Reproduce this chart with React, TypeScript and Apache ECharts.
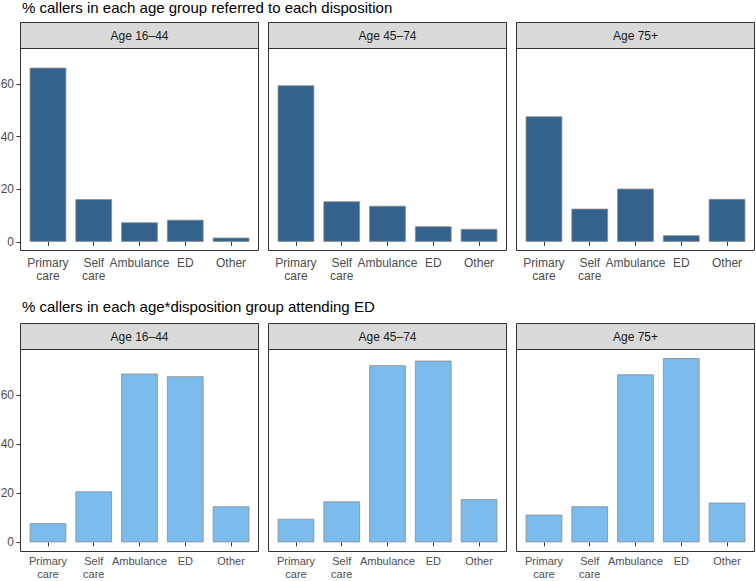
import React, { useEffect, useRef } from 'react';
import * as echarts from 'echarts';

const categories = ['Primary care', 'Self care', 'Ambulance', 'ED', 'Other'];
const ageGroups = ['Age 16–44', 'Age 45–74', 'Age 75+'];
const yTicks = [0, 20, 40, 60];

const titleReferred = '% callers in each age group referred to each disposition';
const titleAttending = '% callers in each age*disposition group attending ED';

const referred1644 = [66.2, 16.2, 7.4, 8.4, 1.6];
const referred4574 = [59.5, 15.4, 13.7, 5.9, 4.9];
const referred75 = [47.7, 12.6, 20.2, 2.5, 16.3];

const attend1644 = [7.8, 20.8, 68.9, 67.8, 14.7];
const attend4574 = [9.6, 16.7, 72.3, 74.2, 17.6];
const attend75 = [11.3, 14.7, 68.6, 75.2, 16.2];

const FONT = '"Liberation Sans", Arial, Helvetica, sans-serif';

export default function App() {
  const ref = useRef<HTMLDivElement>(null);
  useEffect(() => {
    const chart = echarts.init(ref.current!, null, { renderer: 'svg', width: 756, height: 581 });

    const panelLefts = [20.5, 268.5, 516.5];
    const W = 238;
    const stripH = 26;
    const panelH = 202;
    const pad = (W / 5.2) * 0.1;

    const rows = [
      {
        title: titleReferred,
        titleY: 7,
        stripTop: 22.5,
        data: [referred1644, referred4574, referred75],
        color: '#33638D',
        min: -3.3,
        max: 73.5,
        labelMargin: 6,
        labelLineHeight: 13,
        labelSize: 12,
      },
      {
        title: titleAttending,
        titleY: 306.5,
        stripTop: 323.5,
        data: [attend1644, attend4574, attend75],
        color: '#7CBCEC',
        min: -3.75,
        max: 78.75,
        labelMargin: 3.5,
        labelLineHeight: 12.6,
        labelSize: 11,
      },
    ];

    const grid: any[] = [];
    const xAxis: any[] = [];
    const yAxis: any[] = [];
    const series: any[] = [];
    const graphic: any[] = [];

    rows.forEach((row, r) => {
      graphic.push({
        type: 'text',
        x: 22,
        y: row.titleY,
        silent: true,
        style: { text: row.title, fontSize: 15, fontFamily: FONT, fill: '#000', align: 'left', verticalAlign: 'middle' },
      });
      panelLefts.forEach((L, p) => {
        const idx = r * 3 + p;
        const top = row.stripTop + stripH;
        grid.push({
          left: L + pad,
          top,
          width: W - 2 * pad,
          height: panelH,
          containLabel: false,
          outerBoundsMode: 'none',
        });
        xAxis.push({
          type: 'category',
          gridIndex: idx,
          data: categories,
          axisLine: { show: false },
          splitLine: { show: false },
          axisTick: { show: true, alignWithLabel: true, length: 4, lineStyle: { color: '#333', width: 1 } },
          axisLabel: {
            interval: 0,
            hideOverlap: false,
            color: '#4D4D4D',
            fontSize: row.labelSize,
            lineHeight: row.labelLineHeight,
            margin: row.labelMargin,
            fontFamily: FONT,
            formatter: (v: string) => v.replace(' ', '\n'),
          },
        });
        yAxis.push({
          type: 'value',
          gridIndex: idx,
          min: row.min,
          max: row.max,
          offset: pad,
          axisLine: { show: false },
          splitLine: { show: false },
          axisTick: { show: p === 0, length: 4, customValues: yTicks, lineStyle: { color: '#333', width: 1 } },
          axisLabel: {
            show: p === 0,
            customValues: yTicks,
            color: '#4D4D4D',
            fontSize: 12,
            margin: 6.5,
            fontFamily: FONT,
          },
        });
        series.push({
          type: 'bar',
          xAxisIndex: idx,
          yAxisIndex: idx,
          data: row.data[p],
          barWidth: '80%',
          silent: true,
          itemStyle: { color: row.color, borderColor: '#8A8A8A', borderWidth: 0.8 },
        });
        graphic.push({
          type: 'rect',
          z: 10,
          silent: true,
          shape: { x: L, y: row.stripTop, width: W, height: stripH },
          style: { fill: '#D9D9D9', stroke: '#333', lineWidth: 1 },
        });
        graphic.push({
          type: 'text',
          z: 11,
          silent: true,
          x: L + W / 2,
          y: row.stripTop + stripH / 2,
          style: { text: ageGroups[p], fontSize: 12, fontFamily: FONT, fill: '#1A1A1A', align: 'center', verticalAlign: 'middle' },
        });
        graphic.push({
          type: 'rect',
          z: 10,
          silent: true,
          shape: { x: L, y: top, width: W, height: panelH },
          style: { fill: 'none', stroke: '#333', lineWidth: 1 },
        });
      });
    });

    chart.setOption({
      animation: false,
      backgroundColor: '#fff',
      grid,
      xAxis,
      yAxis,
      series,
      graphic,
    });
    return () => chart.dispose();
  }, []);
  return (
    <div
      ref={ref}
      style={{ position: 'fixed', left: 0, top: 0, width: 756, height: 581, background: '#fff' }}
    />
  );
}
